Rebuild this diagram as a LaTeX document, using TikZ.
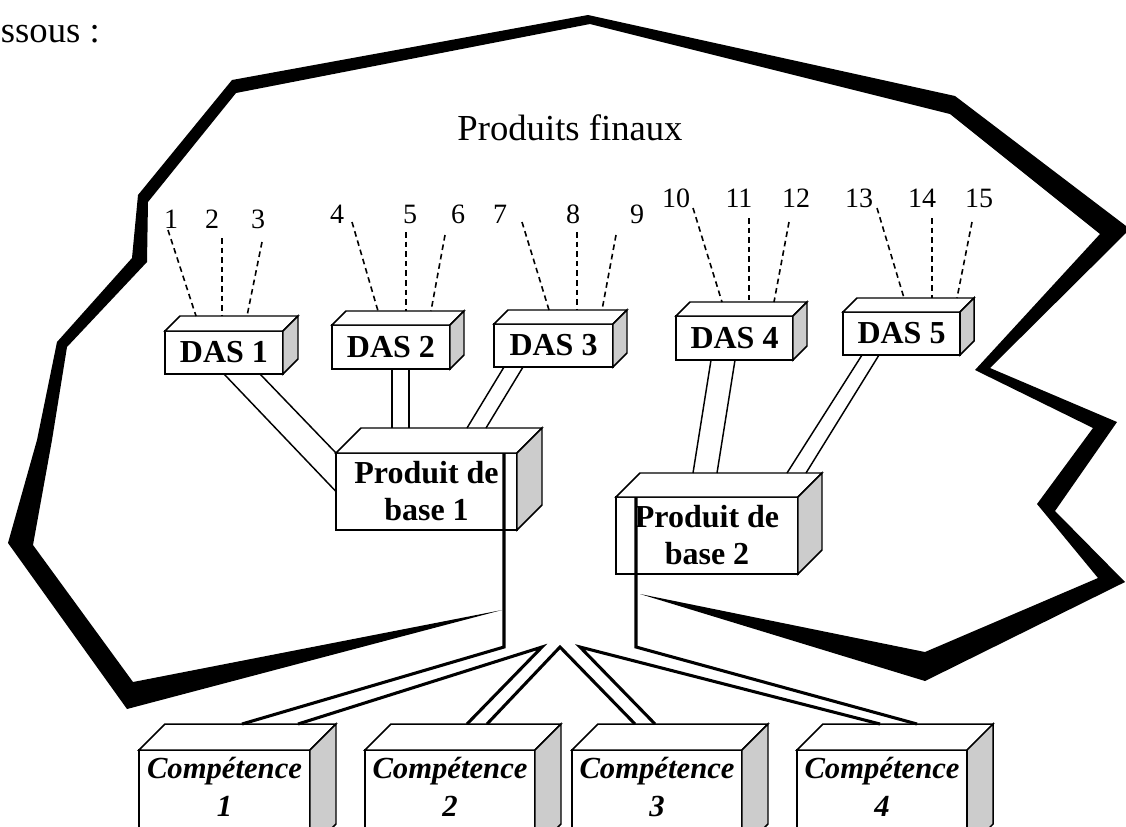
\documentclass[tikz,border=0pt]{standalone}
\usepackage{fontspec}
\setmainfont{Liberation Serif}
\usetikzlibrary{calc}
\definecolor{sidegray}{RGB}{204,204,204}

% A box seen in perspective: white front (named node), white top, grey right side.
% #1 name, #2 centre x, #3 centre y, #4 width, #5 height, #6 depth, #7 text
\newcommand\cuboid[7]{%
  \node[frontface, minimum width={#4*0.75pt}, minimum height={#5*0.75pt}] (#1) at (#2,#3) {#7};
  \draw[facebox] (#1.north west) -- ++(#6,-#6) -- ++(#4,0) -- (#1.north east) -- cycle;
  \draw[facebox, fill=sidegray] (#1.north east) -- ++(#6,-#6) -- ++(0,#5) -- (#1.south east) -- cycle;
}

\begin{document}
\begin{tikzpicture}[x=0.75pt, y=-0.75pt,
  facebox/.style={draw, line width=1.1pt, fill=white, line join=miter},
  frontface/.style={facebox, inner sep=0pt, outer sep=0pt, align=center,
    font=\fontsize{24}{27.75}\selectfont\bfseries},
  num/.style={inner sep=0pt, font=\fontsize{21}{24}\selectfont},
  dashline/.style={line width=1.2pt, dash pattern=on 4.2pt off 3pt},
  pipe/.style={line width=1.1pt},
  heavy/.style={line width=2.3pt, line join=miter},
  comptext/.style={inner sep=0pt, align=center,
    font=\fontsize{23}{28.5}\selectfont\bfseries\itshape},
  bodytext/.style={inner sep=0pt, font=\fontsize{27.5}{32}\selectfont}]

\useasboundingbox (0,0) rectangle (1126,826);

% end of the preceding sentence
\node[bodytext, anchor=base east] (intro) at (100,42) {ssous :};

% thick frontier enclosing the final products
\fill (502,610) -- (127,709) -- (8,543) -- (37,440) -- (57,342) -- (132,258)
  -- (138,195) -- (232,80) -- (588,15) -- (955,96) -- (1130,229) -- (990,368)
  -- (1117,422) -- (1055,511) -- (1125,582) -- (925,681) -- (640,594)
  -- (925,652) -- (1098,578) -- (1037,504) -- (1093,428) -- (975,370)
  -- (1100,234) -- (950,114) -- (590,24) -- (236,93) -- (148,202) -- (147,262)
  -- (67,347) -- (52,440) -- (33,545) -- (133,682) -- cycle;

\node[bodytext] (title) at (570,128) {Produits finaux};

% product numbers
\node[num] (n1) at (171,219) {1};
\node[num] (n2) at (212,219) {2};
\node[num] (n3) at (258,219) {3};
\node[num] (n4) at (337,214) {4};
\node[num] (n5) at (410,214) {5};
\node[num] (n6) at (458,214) {6};
\node[num] (n7) at (500,214) {7};
\node[num] (n8) at (573,214) {8};
\node[num] (n9) at (637,214) {9};
\node[num] (n10) at (676,198) {10};
\node[num] (n11) at (739,198) {11};
\node[num] (n12) at (796,198) {12};
\node[num] (n13) at (859,198) {13};
\node[num] (n14) at (922,198) {14};
\node[num] (n15) at (979,198) {15};

% boxes
\cuboid{das1}{224}{352.5}{118}{43}{15}{DAS 1}
\cuboid{das2}{391}{347}{118}{44}{14}{DAS 2}
\cuboid{das3}{553.5}{345.5}{119}{43}{14}{DAS 3}
\cuboid{das4}{734.5}{338}{117}{44}{14}{DAS 4}
\cuboid{das5}{901.5}{333.5}{117}{43}{14}{DAS 5}
\cuboid{pb1}{426.5}{491.5}{181}{77}{25}{Produit de\\base 1}
\cuboid{pb2}{707}{535.5}{182}{77}{24}{Produit de\\base 2}
\cuboid{c1}{224.5}{800}{171}{100}{26}{}
\cuboid{c2}{450}{800}{170}{100}{26}{}
\cuboid{c3}{657}{800}{170}{100}{26}{}
\cuboid{c4}{882}{800}{170}{100}{26}{}

\node[comptext] (c1t) at (224.5,787) {Compétence\\1};
\node[comptext] (c2t) at (450,787) {Compétence\\2};
\node[comptext] (c3t) at (657,787) {Compétence\\3};
\node[comptext] (c4t) at (882,787) {Compétence\\4};

% double-line links from the DAS to the core products
\draw[pipe] (das1.south) -- (pb1.west);
\draw[pipe] ($(das1.south)+(36,0)$) -- (pb1.north west);
\draw[pipe] ($(das2.south)+(1,0)$) -- ($(pb1.north)+(-34.5,-25)$);
\draw[pipe] ($(das2.south)+(18,0)$) -- ($(pb1.north)+(-17.5,-25)$);
\draw[pipe] ($(das3.south)+(-49.5,0)$) -- ($(pb1.north)+(40.5,-25)$);
\draw[pipe] ($(das3.south)+(-30.5,0)$) -- ($(pb1.north)+(59.5,-25)$);
\draw[pipe] ($(das4.south)+(-23.5,0)$) -- ($(pb2.north)+(-14,-24)$);
\draw[pipe] ($(das4.south)+(0.5,0)$) -- ($(pb2.north)+(10,-24)$);
\draw[pipe] ($(das5.south)+(-39.5,0)$) -- ($(pb2.north)+(80,-24)$);
\draw[pipe] ($(das5.south)+(-22.5,0)$) -- ($(pb2.north)+(99,-24)$);

% dashed links from the products to their DAS
\draw[dashline] ($(n1)+(-3,11)$) -- ($(das1.north)+(-28,-15)$);
\draw[dashline] ($(n2)+(10,19)$) -- ($(das1.north)+(-2,-15)$);
\draw[dashline] ($(n3)+(4,23)$) -- ($(das1.north)+(23,-15)$);
\draw[dashline] ($(n4)+(15,8)$) -- ($(das2.north)+(-13,-14)$);
\draw[dashline] ($(n5)+(-4,18)$) -- ($(das2.north)+(15,-14)$);
\draw[dashline] ($(n6)+(-13,21)$) -- ($(das2.north)+(40,-14)$);
\draw[dashline] ($(n7)+(22,8)$) -- ($(das3.north)+(-4.5,-14)$);
\draw[dashline] ($(n8)+(4,18)$) -- ($(das3.north)+(23.5,-14)$);
\draw[dashline] ($(n9)+(-21,21)$) -- ($(das3.north)+(48.5,-14)$);
\draw[dashline] ($(n10)+(17,10)$) -- ($(das4.north)+(-12.5,-14)$);
\draw[dashline] ($(n11)+(10,20)$) -- ($(das4.north)+(14.5,-14)$);
\draw[dashline] ($(n12)+(-7,24)$) -- ($(das4.north)+(39.5,-14)$);
\draw[dashline] ($(n13)+(18,10)$) -- ($(das5.north)+(2.5,-14)$);
\draw[dashline] ($(n14)+(10,20)$) -- ($(das5.north)+(30.5,-14)$);
\draw[dashline] ($(n15)+(-7,24)$) -- ($(das5.north)+(55.5,-14)$);

% heavy links from the core products down to the competences
\coordinate (j1) at (504,647);
\coordinate (j2) at (542,647);
\coordinate (j3) at (560,647);
\coordinate (j4) at (580,647);
\coordinate (j5) at (636,647);
\draw[heavy] ($(pb1.north east)+(-13,0)$) -- (j1) -- ($(c1.north)+(17.5,-26)$);
\draw[heavy] ($(c1.north)+(73.5,-26)$) -- (j2) -- ($(c2.north)+(17,-26)$);
\draw[heavy] ($(c2.north)+(37,-26)$) -- (j3) -- ($(c3.north)+(-22,-26)$);
\draw[heavy] ($(c3.north)+(-2,-26)$) -- (j4) -- ($(c4.north)+(-2,-26)$);
\draw[heavy] ($(pb2.north west)+(20,0)$) -- (j5) -- ($(c4.north)+(35,-26)$);
\end{tikzpicture}
\end{document}
